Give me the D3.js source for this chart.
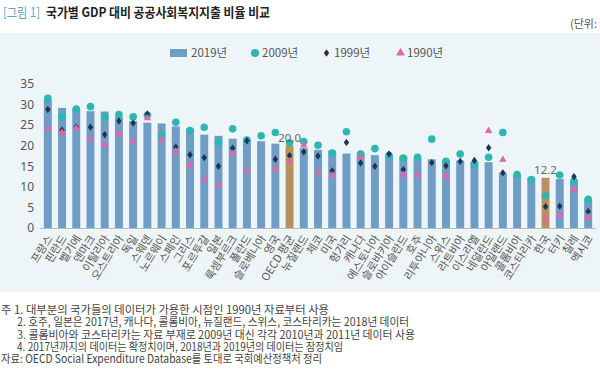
<!DOCTYPE html>
<html>
<head>
<meta charset="utf-8">
<script src="https://cdn.jsdelivr.net/npm/d3@7"></script>
<style>
  body { margin: 0; background: #fff; }
  svg { display: block; font-family: "Noto Sans CJK KR", "Noto Sans", sans-serif; }
</style>
</head>
<body>
<svg id="chart"></svg>
<script>

var countries = ["프랑스","핀란드","벨기에","덴마크","이탈리아","오스트리아","독일","스웨덴","노르웨이","스페인",
  "그리스","포르투갈","일본","룩셈부르크","폴란드","슬로베니아","영국","OECD 평균","뉴질랜드","체코",
  "미국","헝가리","캐나다","에스토니아","슬로바키아","아이슬란드","호주","리투아니아","스위스","라트비아",
  "이스라엘","네덜란드","아일랜드","콜롬비아","코스타리카","한국","터키","칠레","멕시코"]

var v2019 = [31.1,29.2,29.0,28.4,28.3,27.0,26.0,25.6,25.4,24.7,
  24.1,22.7,22.4,21.7,21.5,21.1,20.5,20.0,19.4,19.0,
  18.8,18.1,18.1,17.7,17.6,17.4,16.8,16.7,16.4,16.4,
  16.2,16.0,13.4,13.1,12.2,12.2,11.9,11.3,7.2]

var v2009 = [31.5,27.0,28.9,29.5,27.0,27.6,27.0,27.4,22.4,25.7,
  23.7,24.5,20.8,24.1,21.4,22.4,23.2,20.7,21.0,20.1,
  18.2,23.4,18.0,19.3,17.6,17.0,17.2,21.6,16.2,18.0,
  15.4,17.2,23.2,13.0,11.8,7.9,12.9,11.4,7.0]

var v1999 = [28.8,23.8,24.6,24.5,22.7,26.0,25.5,27.7,null,19.7,
  17.8,17.1,15.0,19.4,21.2,null,16.7,17.6,18.5,17.5,
  13.9,20.8,15.8,15.0,18.0,14.2,null,15.9,15.1,16.2,
  16.4,19.5,13.4,null,null,5.2,5.3,12.5,4.0]

var v1990 = [24.2,23.2,24.3,21.6,20.3,22.9,21.1,26.7,21.4,18.7,
  15.3,11.7,10.5,18.1,13.8,null,14.4,16.2,20.1,13.5,
  12.8,null,17.2,null,null,12.9,12.8,null,12.7,null,
  null,23.6,16.6,null,null,2.1,3.2,9.3,2.6]

var yTicks = [0,5,10,15,20,25,30,35]
var highlight = ["OECD 평균","한국"]

var legendLabels = ["2019년","2009년","1999년","1990년"]

var notes = [
  "주 1. 대부분의 국가들의 데이터가 가용한 시점인 1990년 자료부터 사용",
  "2. 호주, 일본은 2017년, 캐나다, 콜롬비아, 뉴질랜드, 스위스, 코스타리카는 2018년 데이터",
  "3. 콜롬비아와 코스타리카는 자료 부재로 2009년 대신 각각 2010년과 2011년 데이터 사용",
  "4. 2017년까지의 데이터는 확정치이며, 2018년과 2019년의 데이터는 잠정치임",
  "자료: OECD Social Expenditure Database를 토대로 국회예산정책처 정리"
]

var barColor = "#6f9dc5"
var hiColor = "#b9915c"
var tealColor = "#2db7b0"
var navyColor = "#1f3352"
var pinkColor = "#e265a5"

var svg = d3.select("#chart").attr("width", 600).attr("height", 386)

// panel background
svg.append("rect")
  .attr("x", 0).attr("y", 33).attr("width", 600).attr("height", 259)
  .attr("fill", "#eef5f9")

// title
svg.append("text").attr("x", 3).attr("y", 17)
  .attr("font-size", 13).attr("fill", "#5ba4cf")
  .attr("textLength", 37).attr("lengthAdjust", "spacingAndGlyphs")
  .text("[그림 1]")
svg.append("text").attr("x", 46).attr("y", 17)
  .attr("font-size", 13).attr("font-weight", "bold").attr("fill", "#222")
  .attr("textLength", 224).attr("lengthAdjust", "spacingAndGlyphs")
  .text("국가별 GDP 대비 공공사회복지지출 비율 비교")
svg.append("text").attr("x", 570).attr("y", 28)
  .attr("font-size", 11).attr("fill", "#555")
  .text("(단위: %)")

var xScale = d3.scaleBand()
  .domain(countries)
  .range([41, 595])
  .paddingInner(0.44)
  .paddingOuter(0.2)

var yScale = d3.scaleLinear()
  .domain([0, 35])
  .range([228, 84])

// y tick labels
var y_axis = d3.axisLeft(yScale).tickValues(yTicks).tickSize(0).tickPadding(0)
var gy = svg.append("g").attr("transform", "translate(34,0)").call(y_axis)
gy.select(".domain").remove()
gy.selectAll("text").attr("font-size", 12).attr("fill", "#555")
  .attr("font-family", "\"Noto Sans\", sans-serif")

// bars
svg.append("g").selectAll("rect")
  .data(countries)
  .enter().append("rect")
  .attr("x", function(d) { return xScale(d) })
  .attr("y", function(d, i) { return yScale(v2019[i]) })
  .attr("width", xScale.bandwidth())
  .attr("height", function(d, i) { return yScale(0) - yScale(v2019[i]) })
  .attr("fill", function(d) { return highlight.indexOf(d) >= 0 ? hiColor : barColor })

// baseline
svg.append("line")
  .attr("x1", 40).attr("x2", 596)
  .attr("y1", 228.5).attr("y2", 228.5)
  .attr("stroke", "#b5bcc2").attr("stroke-width", 1)

function cx(d) { return xScale(d) + xScale.bandwidth() / 2 }

// 2009 circles
svg.append("g").selectAll("circle")
  .data(countries.filter(function(d, i) { return v2009[i] != null }))
  .enter().append("circle")
  .attr("cx", cx)
  .attr("cy", function(d) { return yScale(v2009[countries.indexOf(d)]) })
  .attr("r", 3.8)
  .attr("fill", tealColor)

// 1999 diamonds
var diamond = d3.symbol().type(d3.symbolDiamond2).size(26)
svg.append("g").selectAll("path")
  .data(countries.filter(function(d, i) { return v1999[i] != null }))
  .enter().append("path")
  .attr("d", diamond)
  .attr("transform", function(d) {
    return "translate(" + cx(d) + "," + yScale(v1999[countries.indexOf(d)]) + ") scale(0.85,1.15)"
  })
  .attr("fill", navyColor)

// 1990 triangles
var tri = d3.symbol().type(d3.symbolTriangle).size(24)
svg.append("g").selectAll("path")
  .data(countries.filter(function(d, i) { return v1990[i] != null }))
  .enter().append("path")
  .attr("d", tri)
  .attr("transform", function(d) {
    return "translate(" + cx(d) + "," + yScale(v1990[countries.indexOf(d)]) + ")"
  })
  .attr("fill", pinkColor)

// value labels for highlighted bars
svg.append("g").selectAll("text")
  .data(highlight)
  .enter().append("text")
  .attr("x", cx)
  .attr("y", function(d) { return yScale(v2019[countries.indexOf(d)]) - 4 })
  .attr("text-anchor", "middle")
  .attr("font-size", 11.5).attr("fill", "#666")
  .attr("font-family", "\"Noto Sans\", sans-serif")
  .text(function(d) { return v2019[countries.indexOf(d)].toFixed(1) })

// x labels
svg.append("g").selectAll("text")
  .data(countries)
  .enter().append("text")
  .attr("transform", function(d) { return "translate(" + (cx(d) + 2) + ",236) rotate(-58)" })
  .attr("text-anchor", "end")
  .attr("dy", "0.35em")
  .attr("font-size", 11).attr("fill", "#555")
  .text(function(d) { return d })

// legend
var lg = svg.append("g")
lg.append("rect").attr("x", 170).attr("y", 49).attr("width", 17).attr("height", 8).attr("fill", barColor)
lg.append("circle").attr("cx", 255).attr("cy", 53).attr("r", 4).attr("fill", tealColor)
lg.append("path").attr("d", diamond)
  .attr("transform", "translate(326.5,53) scale(0.85,1.15)").attr("fill", navyColor)
lg.append("path").attr("d", d3.symbol().type(d3.symbolTriangle).size(34))
  .attr("transform", "translate(400.5,53)").attr("fill", pinkColor)
var legendX = [191, 262, 334, 407]
lg.selectAll("text.lg")
  .data(legendLabels)
  .enter().append("text")
  .attr("x", function(d, i) { return legendX[i] })
  .attr("y", 53).attr("dy", "0.35em")
  .attr("font-size", 11.5).attr("fill", "#555")
  .text(function(d) { return d })

// footnotes
var noteX = [1, 17, 17, 17, 1]
var noteW = [328, 392, 398, 326, 321]
svg.append("g").selectAll("text")
  .data(notes)
  .enter().append("text")
  .attr("x", function(d, i) { return noteX[i] })
  .attr("y", function(d, i) { return 310 + i * 12.3 })
  .attr("dy", "0.35em")
  .attr("font-size", 11.5).attr("fill", "#444")
  .attr("textLength", function(d, i) { return noteW[i] })
  .attr("lengthAdjust", "spacingAndGlyphs")
  .text(function(d) { return d })

</script>
</body>
</html>
